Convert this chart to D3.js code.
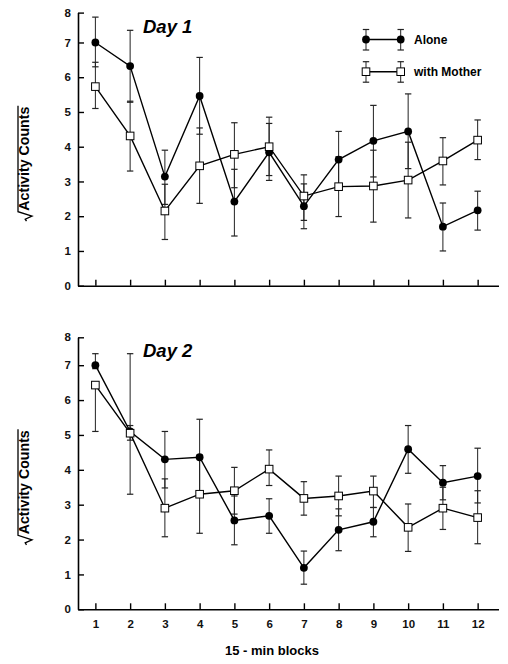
<!DOCTYPE html>
<html><head><meta charset="utf-8">
<script src="https://cdn.jsdelivr.net/npm/d3@7"></script>
<style>body{margin:0;background:#fff}svg{display:block}</style>
</head><body>
<script>
// ---------- data ----------
const blocks = [1,2,3,4,5,6,7,8,9,10,11,12];
const yTicks = [0,1,2,3,4,5,6,7,8];
const seriesNames = ["Alone", "with Mother"];
const panelTitles = ["Day 1", "Day 2"];
const yLabel = "Activity Counts";
const xTitle = "15 - min blocks";

const day1AloneMean = [7.00, 6.32, 3.14, 5.46, 2.42, 3.84, 2.29, 3.63, 4.17, 4.44, 1.70, 2.17];
const day1AloneLo   = [6.30, 5.28, 2.34, 4.36, 1.43, 3.03, 1.64, 2.82, 3.13, 3.37, 1.00, 1.60];
const day1AloneHi   = [7.73, 7.35, 3.90, 6.57, 3.35, 4.67, 2.93, 4.44, 5.19, 5.52, 2.38, 2.72];

const day1MotherMean = [5.73, 4.31, 2.15, 3.45, 3.78, 4.00, 2.58, 2.85, 2.87, 3.04, 3.59, 4.19];
const day1MotherLo   = [5.10, 3.30, 1.33, 2.37, 2.82, 3.17, 1.88, 1.99, 1.83, 1.95, 2.90, 3.63];
const day1MotherHi   = [6.43, 5.31, 2.92, 4.54, 4.69, 4.85, 3.19, 3.71, 3.90, 4.13, 4.26, 4.77];

const day2AloneMean = [7.00, 5.10, 4.30, 4.36, 2.55, 2.68, 1.19, 2.28, 2.51, 4.59, 3.63, 3.82];
const day2AloneLo   = [6.90, 3.30, 3.48, 3.27, 1.85, 2.18, 0.72, 1.68, 2.08, 3.90, 3.14, 3.05];
const day2AloneHi   = [7.33, 7.33, 5.10, 5.45, 3.25, 3.17, 1.67, 2.88, 2.92, 5.27, 4.12, 4.62];

const day2MotherMean = [6.43, 5.05, 2.90, 3.30, 3.40, 4.02, 3.18, 3.25, 3.39, 2.35, 2.90, 2.63];
const day2MotherLo   = [5.10, 4.85, 2.08, 2.18, 2.73, 3.55, 2.70, 2.68, 2.92, 1.66, 2.29, 1.88];
const day2MotherHi   = [6.50, 5.27, 3.74, 4.42, 4.07, 4.57, 3.66, 3.82, 3.82, 3.02, 3.50, 3.40];

// ---------- setup ----------
const W = 508, H = 664;
const FONT = "'Liberation Sans', Arial, Helvetica, sans-serif";
const svg = d3.select("body").append("svg").attr("width", W).attr("height", H)
  .style("font-family", FONT);

const x = d3.scaleLinear().domain([0.5, 12.6]).range([78, 498.5]);

const panels = [
  { title: panelTitles[0], y: d3.scaleLinear().domain([0, 7.86]).range([285.7, 12.6]).clamp(true),
    labels: false, legend: true,
    series: [
      { name: seriesNames[0], mean: day1AloneMean, lo: day1AloneLo, hi: day1AloneHi, filled: true },
      { name: seriesNames[1], mean: day1MotherMean, lo: day1MotherLo, hi: day1MotherHi, filled: false }
    ] },
  { title: panelTitles[1], y: d3.scaleLinear().domain([0, 7.80]).range([609.3, 337.3]).clamp(true),
    labels: true, legend: false,
    series: [
      { name: seriesNames[0], mean: day2AloneMean, lo: day2AloneLo, hi: day2AloneHi, filled: true },
      { name: seriesNames[1], mean: day2MotherMean, lo: day2MotherLo, hi: day2MotherHi, filled: false }
    ] }
];

const R = 3.9, SQ = 7.6, CAP = 3.2;

function errBar(g, cx, y1, y2) {
  g.append("line").attr("x1", cx).attr("x2", cx).attr("y1", y1).attr("y2", y2)
    .attr("stroke", "#222").attr("stroke-width", 1);
  [y1, y2].forEach(yy => g.append("line").attr("x1", cx - CAP).attr("x2", cx + CAP)
    .attr("y1", yy).attr("y2", yy).attr("stroke", "#222").attr("stroke-width", 1.2));
}
function marker(g, cx, cy, filled) {
  if (filled) g.append("circle").attr("cx", cx).attr("cy", cy).attr("r", R).attr("fill", "#000");
  else g.append("rect").attr("x", cx - SQ/2).attr("y", cy - SQ/2).attr("width", SQ).attr("height", SQ)
        .attr("fill", "#fff").attr("stroke", "#000").attr("stroke-width", 1);
}

panels.forEach(p => {
  const g = svg.append("g");
  const y = p.y;
  const y0 = y(0);

  // axes
  const ax = d3.axisLeft(y).tickValues(yTicks).tickSizeInner(-6).tickSizeOuter(0).tickPadding(7)
    .tickFormat(d3.format("d"));
  const gy = g.append("g").attr("transform", `translate(${x.range()[0]},0)`).call(ax);
  const bx = d3.axisBottom(x).tickValues(blocks).tickSizeInner(-6).tickSizeOuter(0).tickPadding(11)
    .tickFormat(p.labels ? d3.format("d") : () => "");
  const gx = g.append("g").attr("transform", `translate(0,${y0})`).call(bx);
  [gy, gx].forEach(a => {
    a.select(".domain").attr("stroke", "#000").attr("stroke-width", 1.6);
    a.selectAll(".tick line").attr("stroke", "#000").attr("stroke-width", 1.4);
    a.selectAll(".tick text").attr("fill", "#111").style("font-family", FONT)
      .style("font-size", "11.5px").style("font-weight", "bold");
  });

  // error bars
  p.series.forEach(s => {
    const eg = g.append("g");
    blocks.forEach((b, i) => errBar(eg, x(b), y(s.lo[i]), y(s.hi[i])));
  });
  // lines
  const line = d3.line().x((d, i) => x(blocks[i])).y(d => y(d));
  p.series.forEach(s => {
    g.append("path").attr("d", line(s.mean)).attr("fill", "none")
      .attr("stroke", "#000").attr("stroke-width", 1.4);
  });
  // markers
  p.series.forEach(s => {
    const mg = g.append("g");
    blocks.forEach((b, i) => marker(mg, x(b), y(s.mean[i]), s.filled));
  });

  // panel title
  g.append("text").attr("x", 143).attr("y", y0 - 252.6).text(p.title)
    .style("font-size", "18.5px").style("font-weight", "bold").style("font-style", "italic");

  // y label with radical
  const lg = g.append("g").attr("transform", `translate(29,${y0 - 64.5}) rotate(-90)`);
  const t = lg.append("text").attr("x", 10.5).attr("y", 0).text(yLabel)
    .style("font-size", "14.2px").style("font-weight", "bold");
  const len = t.node().getComputedTextLength();
  lg.append("path")
    .attr("d", `M0,-2.5 L2,-3.8 L5,3 L9.5,-11 L${10.5 + len + 1},-11`)
    .attr("fill", "none").attr("stroke", "#000").attr("stroke-width", 1.3);

  // legend
  if (p.legend) {
    const legY = [39.5, 71.7];
    p.series.forEach((s, k) => {
      const lgg = g.append("g");
      const cy = legY[k];
      [366, 400.7].forEach(cx => errBar(lgg, cx, cy - 10, cy + 10.5));
      lgg.append("line").attr("x1", 366).attr("x2", 400.7).attr("y1", cy).attr("y2", cy)
        .attr("stroke", "#000").attr("stroke-width", 1.4);
      [366, 400.7].forEach(cx => marker(lgg, cx, cy, s.filled));
      lgg.append("text").attr("x", 414).attr("y", cy + 4).text(s.name)
        .style("font-size", "12px").style("font-weight", "bold");
    });
  }
});

// x-axis title
svg.append("text").attr("x", 272).attr("y", 654.5).attr("text-anchor", "middle").text(xTitle)
  .style("font-size", "13px").style("font-weight", "bold");
</script>
</body></html>
